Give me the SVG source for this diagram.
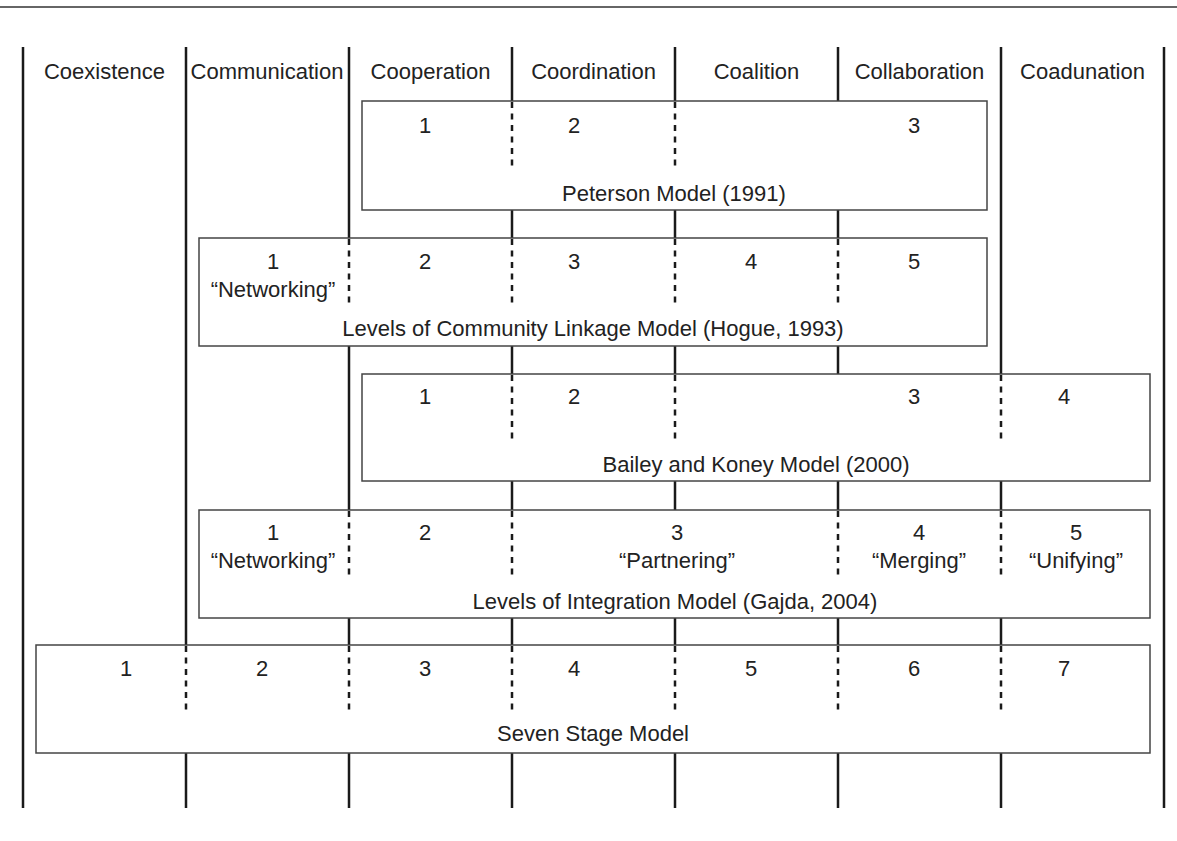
<svg xmlns="http://www.w3.org/2000/svg" width="1177" height="841" viewBox="0 0 1177 841">
<style>
.t{font-family:"Liberation Sans",Arial,sans-serif;font-size:22px;fill:#222;text-anchor:middle}
.v{stroke:#1a1a1a;stroke-width:2.5;fill:none}
.d{stroke:#1a1a1a;stroke-width:2.5;stroke-dasharray:6 5.5;fill:none}
.b{fill:#fff;stroke:#444;stroke-width:1.5}
</style>
<rect width="1177" height="841" fill="#fff"/>
<line x1="0" y1="7" x2="1177" y2="7" stroke="#333" stroke-width="1.5"/>
<g id="columns">
<path class="v" d="M23 47V808M186 47V808M349 47V808M512 47V808M675 47V808M838 47V808M1001 47V808M1164 47V808"/>
<text class="t" x="104.5" y="79">Coexistence</text>
<text class="t" x="267" y="79">Communication</text>
<text class="t" x="430.5" y="79">Cooperation</text>
<text class="t" x="593.5" y="79">Coordination</text>
<text class="t" x="756.5" y="79">Coalition</text>
<text class="t" x="919.5" y="79">Collaboration</text>
<text class="t" x="1082.5" y="79">Coadunation</text>
</g>
<g id="peterson">
<rect class="b" x="362" y="101" width="625" height="109"/>
<path class="d" d="M512 102V167M675 102V167"/>
<text class="t" x="425" y="133">1</text>
<text class="t" x="574" y="133">2</text>
<text class="t" x="914" y="133">3</text>
<text class="t" x="674" y="201">Peterson Model (1991)</text>
</g>
<g id="hogue">
<rect class="b" x="199" y="238" width="788" height="108"/>
<path class="d" d="M349 239V303M512 239V303M675 239V303M838 239V303"/>
<text class="t" x="273" y="269">1</text>
<text class="t" x="273" y="297">“Networking”</text>
<text class="t" x="425" y="269">2</text>
<text class="t" x="574" y="269">3</text>
<text class="t" x="751" y="269">4</text>
<text class="t" x="914" y="269">5</text>
<text class="t" x="593" y="336">Levels of Community Linkage Model (Hogue, 1993)</text>
</g>
<g id="bailey">
<rect class="b" x="362" y="374" width="788" height="107"/>
<path class="d" d="M512 375V439M675 375V439M1001 375V439"/>
<text class="t" x="425" y="404">1</text>
<text class="t" x="574" y="404">2</text>
<text class="t" x="914" y="404">3</text>
<text class="t" x="1064" y="404">4</text>
<text class="t" x="756" y="472">Bailey and Koney Model (2000)</text>
</g>
<g id="gajda">
<rect class="b" x="199" y="510" width="951" height="108"/>
<path class="d" d="M349 511V575M512 511V575M838 511V575M1001 511V575"/>
<text class="t" x="273" y="540">1</text>
<text class="t" x="273" y="568">“Networking”</text>
<text class="t" x="425" y="540">2</text>
<text class="t" x="677" y="540">3</text>
<text class="t" x="677" y="568">“Partnering”</text>
<text class="t" x="919" y="540">4</text>
<text class="t" x="919" y="568">“Merging”</text>
<text class="t" x="1076" y="540">5</text>
<text class="t" x="1076" y="568">“Unifying”</text>
<text class="t" x="675" y="609">Levels of Integration Model (Gajda, 2004)</text>
</g>
<g id="seven">
<rect class="b" x="36" y="645" width="1114" height="108"/>
<path class="d" d="M186 646V711M349 646V711M512 646V711M675 646V711M838 646V711M1001 646V711"/>
<text class="t" x="126" y="676">1</text>
<text class="t" x="262" y="676">2</text>
<text class="t" x="425" y="676">3</text>
<text class="t" x="574" y="676">4</text>
<text class="t" x="751" y="676">5</text>
<text class="t" x="914" y="676">6</text>
<text class="t" x="1064" y="676">7</text>
<text class="t" x="593" y="741">Seven Stage Model</text>
</g>
</svg>
